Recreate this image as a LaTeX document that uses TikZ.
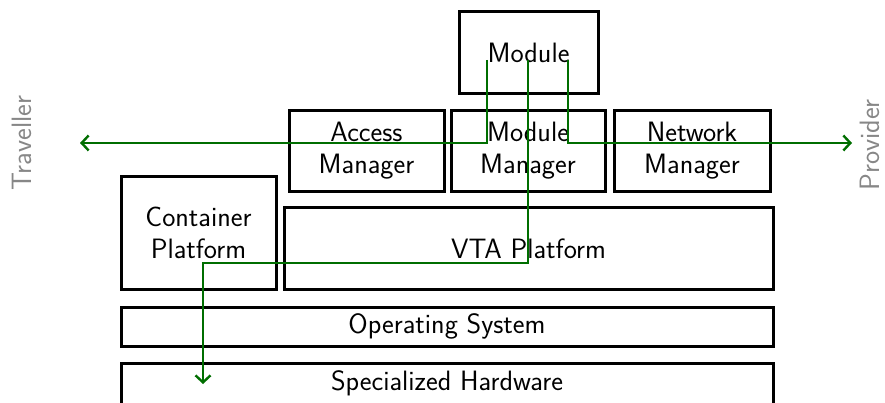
\documentclass[tikz,border=0pt]{standalone}
\usetikzlibrary{arrows.meta}
\definecolor{flowgreen}{RGB}{0,110,0}
\definecolor{sidegray}{RGB}{135,135,135}
\begin{document}
\begin{tikzpicture}[x=1pt,y=-1pt,
  layer/.style={draw=black, line width=3pt, inner sep=0pt, align=center,
    font=\sffamily\fontsize{28}{32}\selectfont},
  flow/.style={draw=flowgreen, line width=2.6pt,
    -{Straight Barb[length=7pt,width=15pt,line width=2.4pt]}},
  side/.style={text=sidegray, rotate=90, inner sep=0pt, font=\sffamily\fontsize{28}{30}\selectfont}]
\useasboundingbox (0,0) rectangle (885,403);
\clip (0,0) rectangle (885,403);
% component boxes
\node[layer, minimum width=139pt, minimum height=82pt] (mod) at (528.5,53) {Module};
\node[layer, minimum width=155pt, minimum height=81pt] (acc) at (366.5,151) {Access\\Manager};
\node[layer, minimum width=154pt, minimum height=81pt] (mman) at (528,151) {Module\\Manager};
\node[layer, minimum width=156pt, minimum height=81pt] (net) at (692,151) {Network\\Manager};
\node[layer, minimum width=155pt, minimum height=113pt] (cont) at (198.5,233) {Container\\Platform};
\node[layer, minimum width=489pt, minimum height=81pt] (vta) at (528.5,248.5) {VTA Platform};
\node[layer, minimum width=652pt, minimum height=39pt] (os) at (447,326.5) {Operating System};
\node[layer, minimum width=652pt, minimum height=56pt] (hw) at (447,391) {};
\node[font=\sffamily\fontsize{28}{31}\selectfont] (hwlabel) at (447,383) {Specialized Hardware};
% side labels
\node[side] (trav) at (22,143) {Traveller};
\node[side] (prov) at (870,145) {Provider};
% flow end points
\coordinate (s1) at (487,60);
\coordinate (s2) at (528,60);
\coordinate (s3) at (568,60);
\coordinate (t1) at (80,143);
\coordinate (t2) at (203,384);
\coordinate (t3) at (852,143);
% data flows out of the module
\draw[flow] (s1) |- (t1);
\draw[flow] (s3) |- (t3);
\draw[flow] (s2) -- (528,263) -| (t2);
\end{tikzpicture}
\end{document}
